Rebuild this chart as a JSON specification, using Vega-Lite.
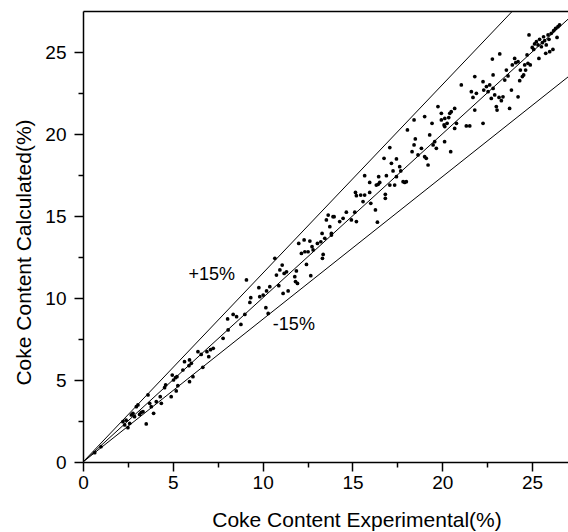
{
  "$schema": "https://vega.github.io/schema/vega-lite/v6.json",
  "width": 485,
  "height": 451,
  "autosize": {"type": "none"},
  "padding": {"left": 83, "top": 11, "right": 0, "bottom": 70},
  "background": "white",
  "config": {
    "view": {"stroke": null},
    "font": "Liberation Sans",
    "axis": {
      "grid": false,
      "domainColor": "black",
      "domainWidth": 1.5,
      "tickColor": "black",
      "tickWidth": 1.5,
      "labelColor": "black",
      "titleColor": "black",
      "labelFont": "Liberation Sans",
      "titleFont": "Liberation Sans",
      "titleFontWeight": "normal",
      "labelOverlap": false,
      "labelFlush": false
    }
  },
  "datasets": {
    "lines": [
      {"series": "upper", "x": 0, "y": 0}, {"series": "upper", "x": 23.913, "y": 27.5},
      {"series": "mid", "x": 0, "y": 0}, {"series": "mid", "x": 27, "y": 27},
      {"series": "lower", "x": 0, "y": 0}, {"series": "lower", "x": 27, "y": 23.478}
    ],
    "labels": [
      {"label": "+15%", "x": 7.17, "y": 11.4},
      {"label": "-15%", "x": 11.74, "y": 8.35}
    ],
    "points": [
      {"x":0.65,"y":0.57},{"x":1.0,"y":0.93},{"x":2.22,"y":2.46},{"x":2.32,"y":2.26},{"x":2.4,"y":2.55},{"x":2.5,"y":2.09},{"x":2.6,"y":2.35},{"x":2.69,"y":2.87},{"x":2.78,"y":2.97},{"x":2.87,"y":2.76},{"x":2.97,"y":3.37},{"x":3.06,"y":3.48},{"x":3.15,"y":2.9},{"x":3.24,"y":3.03},{"x":3.34,"y":3.07},{"x":3.52,"y":2.32},{"x":3.62,"y":4.09},{"x":3.71,"y":3.58},{"x":3.8,"y":3.37},{"x":3.93,"y":2.97},{"x":4.08,"y":3.68},{"x":4.3,"y":3.98},{"x":4.36,"y":3.58},{"x":4.54,"y":4.53},{"x":4.6,"y":4.7},{"x":4.91,"y":3.98},{"x":4.97,"y":5.3},{"x":5.04,"y":5.0},{"x":5.15,"y":5.14},{"x":5.23,"y":5.2},{"x":5.28,"y":4.65},{"x":5.19,"y":4.33},{"x":5.56,"y":5.61},{"x":5.65,"y":6.12},{"x":5.93,"y":6.22},{"x":5.9,"y":5.87},{"x":5.93,"y":4.9},{"x":6.03,"y":6.02},{"x":6.12,"y":5.2},{"x":6.4,"y":6.73},{"x":6.58,"y":6.56},{"x":6.67,"y":5.77},{"x":6.9,"y":6.73},{"x":7.0,"y":6.42},{"x":7.1,"y":6.85},
      {"x":7.25,"y":6.93},{"x":7.8,"y":7.54},{"x":8.08,"y":8.05},{"x":8.05,"y":8.72},{"x":8.36,"y":9.0},{"x":8.55,"y":8.86},{"x":8.79,"y":8.39},{"x":9.01,"y":9.0},{"x":9.1,"y":11.1},{"x":9.29,"y":9.73},{"x":9.34,"y":10.02},{"x":9.79,"y":10.63},{"x":9.84,"y":10.08},{"x":10.03,"y":10.18},{"x":10.22,"y":10.43},{"x":10.18,"y":9.41},{"x":10.31,"y":9.06},{"x":10.4,"y":10.69},{"x":10.68,"y":12.42},{"x":10.77,"y":11.4},{"x":10.9,"y":10.75},{"x":10.96,"y":11.71},{"x":11.09,"y":12.01},{"x":11.2,"y":11.5},{"x":11.14,"y":10.28},{"x":11.33,"y":11.6},{"x":11.42,"y":10.43},{"x":11.79,"y":11.3},{"x":11.88,"y":11.65},{"x":11.83,"y":11.0},{"x":11.94,"y":10.89},{"x":12.01,"y":13.33},{"x":12.16,"y":12.72},{"x":12.31,"y":13.54},{"x":12.35,"y":12.82},{"x":12.44,"y":12.05},{"x":12.53,"y":12.82},{"x":12.63,"y":13.47},{"x":12.68,"y":11.36},{"x":12.75,"y":13.13},{"x":12.81,"y":12.93},{"x":13.05,"y":13.33},{"x":13.24,"y":13.43},{"x":13.31,"y":13.94},{"x":13.37,"y":12.66},{"x":13.33,"y":12.42},{"x":13.46,"y":13.64},{"x":13.74,"y":14.35},{"x":13.83,"y":13.84},{"x":13.92,"y":14.96},
      {"x":13.65,"y":15.06},{"x":13.98,"y":14.96},{"x":13.55,"y":14.76},{"x":13.83,"y":13.94},{"x":14.29,"y":14.66},{"x":14.48,"y":14.86},{"x":14.66,"y":15.23},{"x":14.94,"y":14.76},{"x":15.13,"y":15.23},{"x":15.22,"y":14.66},{"x":15.17,"y":16.44},{"x":15.22,"y":16.24},{"x":15.46,"y":16.28},{"x":15.59,"y":15.88},{"x":15.68,"y":16.28},{"x":15.68,"y":17.46},{"x":15.96,"y":16.44},{"x":15.96,"y":17.05},{"x":16.02,"y":15.77},{"x":16.28,"y":15.37},{"x":16.33,"y":16.89},{"x":16.39,"y":14.62},{"x":16.43,"y":16.93},{"x":16.46,"y":17.4},{"x":16.52,"y":17.05},{"x":16.76,"y":18.52},{"x":16.83,"y":16.32},{"x":16.83,"y":16.08},{"x":16.89,"y":17.46},{"x":17.08,"y":19.17},{"x":17.08,"y":16.89},{"x":17.17,"y":18.21},{"x":17.26,"y":17.75},{"x":17.35,"y":16.89},{"x":17.45,"y":18.48},{"x":17.45,"y":17.4},{"x":17.63,"y":18.01},{"x":17.69,"y":17.75},{"x":17.82,"y":17.09},{"x":17.91,"y":17.05},{"x":18.0,"y":17.09},{"x":18.06,"y":20.25},{"x":18.32,"y":18.92},{"x":18.43,"y":20.86},{"x":18.43,"y":19.33},{"x":18.5,"y":19.7},{"x":18.65,"y":18.72},{"x":18.84,"y":19.13},{"x":19.02,"y":21.06},{"x":19.02,"y":18.62},{"x":19.11,"y":18.52},{"x":19.21,"y":18.11},{"x":19.3,"y":19.94},{"x":19.43,"y":20.65},{"x":19.49,"y":19.33},{"x":19.58,"y":19.53},{"x":19.67,"y":19.13},{"x":19.76,"y":21.67},{"x":19.95,"y":20.86},{"x":20.1,"y":20.55},{"x":20.13,"y":19.53},{"x":20.36,"y":21.0},{"x":20.47,"y":18.92},{"x":20.5,"y":21.36},
      {"x":19.95,"y":21.26},{"x":20.14,"y":20.95},{"x":20.27,"y":20.65},{"x":20.42,"y":21.26},{"x":20.14,"y":20.45},{"x":20.69,"y":21.56},{"x":20.69,"y":20.34},{"x":20.79,"y":20.65},{"x":21.06,"y":22.99},{"x":21.34,"y":20.49},{"x":21.53,"y":20.49},{"x":21.62,"y":22.58},{"x":21.81,"y":23.5},{"x":21.71,"y":22.23},{"x":21.81,"y":21.46},{"x":21.9,"y":22.48},{"x":22.27,"y":23.19},{"x":22.27,"y":20.65},{"x":22.31,"y":22.68},{"x":22.46,"y":22.89},{"x":22.55,"y":22.58},{"x":22.64,"y":22.99},{"x":22.73,"y":22.17},{"x":22.79,"y":24.57},{"x":22.83,"y":23.6},{"x":22.83,"y":22.78},{"x":22.92,"y":22.38},{"x":23.01,"y":21.67},{"x":23.05,"y":21.46},{"x":23.16,"y":22.23},{"x":23.2,"y":24.88},{"x":23.29,"y":22.03},{"x":23.38,"y":22.27},{"x":23.48,"y":23.29},{"x":23.57,"y":23.9},{"x":23.66,"y":23.54},{"x":23.75,"y":21.56},{"x":23.85,"y":22.68},{"x":23.9,"y":24.21},{"x":24.03,"y":24.61},{"x":24.09,"y":24.35},{"x":24.22,"y":24.41},{"x":24.22,"y":22.27},{"x":24.31,"y":23.25},{"x":24.35,"y":23.9},{"x":24.46,"y":23.5},{"x":24.53,"y":23.6},{"x":24.59,"y":24.21},{"x":24.64,"y":23.9},{"x":24.72,"y":24.82},{"x":24.83,"y":26.04},{"x":24.77,"y":24.31},{"x":24.9,"y":24.21},{"x":25.01,"y":25.28},{"x":25.09,"y":25.16},{"x":25.14,"y":25.49},{"x":25.24,"y":25.63},{"x":25.33,"y":25.43},{"x":25.38,"y":24.61},{"x":25.42,"y":25.77},{"x":25.52,"y":25.32},{"x":25.57,"y":25.57},{"x":25.64,"y":25.93},{"x":25.7,"y":25.69},{"x":25.76,"y":24.92},{"x":25.79,"y":25.43},{"x":25.89,"y":26.04},{"x":25.94,"y":25.77},{"x":25.98,"y":25.02},{"x":26.07,"y":26.14},{"x":26.16,"y":25.16},{"x":26.2,"y":26.3},{"x":26.31,"y":26.44},{"x":26.39,"y":25.89},{"x":26.44,"y":26.54},{"x":26.53,"y":26.65}
    ]
  },
  "resolve": {"axis": {"x": "independent", "y": "independent"}},
  "layer": [
    {
      "data": {"name": "lines"},
      "mark": {"type": "line", "color": "black", "strokeWidth": 1, "clip": true},
      "encoding": {
        "x": {"field": "x", "type": "quantitative", "scale": {"domain": [0, 27], "nice": false},
              "axis": {"orient": "top", "labels": false, "ticks": false, "title": null, "domainWidth": 1.5}},
        "y": {"field": "y", "type": "quantitative", "scale": {"domain": [0, 27.5], "nice": false}, "axis": null},
        "detail": {"field": "series"}
      }
    },
    {
      "data": {"name": "points"},
      "mark": {"type": "circle", "color": "black", "size": 14, "opacity": 1},
      "encoding": {
        "x": {"field": "x", "type": "quantitative", "scale": {"domain": [0, 27], "nice": false},
              "axis": {
                "orient": "bottom",
                "values": [0, 5, 10, 15, 20, 25],
                "tickSize": 9,
                "labelFontSize": 19,
                "labelPadding": 2,
                "title": "Coke Content Experimental(%)",
                "titleFontSize": 21,
                "titleX": 273.5,
                "titleY": 64,
                "titleAlign": "center",
                "titleBaseline": "alphabetic"
              }},
        "y": {"field": "y", "type": "quantitative", "scale": {"domain": [0, 27.5], "nice": false},
              "axis": {
                "orient": "left",
                "values": [0, 5, 10, 15, 20, 25],
                "tickSize": 9,
                "labelFontSize": 19,
                "labelPadding": 8,
                "title": "Coke Content Calculated(%)",
                "titleFontSize": 21,
                "titleX": -53,
                "titleY": 241,
                "titleAlign": "center",
                "titleBaseline": "alphabetic",
                "titleAngle": -90
              }}
      }
    },
    {
      "data": {"name": "labels"},
      "mark": {"type": "text", "fontSize": 18, "font": "Liberation Sans", "color": "black", "align": "center", "baseline": "middle"},
      "encoding": {
        "x": {"field": "x", "type": "quantitative", "scale": {"domain": [0, 27], "nice": false},
              "axis": {"orient": "bottom", "values": [2.5, 7.5, 12.5, 17.5, 22.5], "tickSize": 5, "labels": false, "domain": false, "title": null}},
        "y": {"field": "y", "type": "quantitative", "scale": {"domain": [0, 27.5], "nice": false},
              "axis": {"orient": "left", "values": [2.5, 7.5, 12.5, 17.5, 22.5], "tickSize": 5, "labels": false, "domain": false, "title": null}},
        "text": {"field": "label"}
      }
    }
  ]
}
